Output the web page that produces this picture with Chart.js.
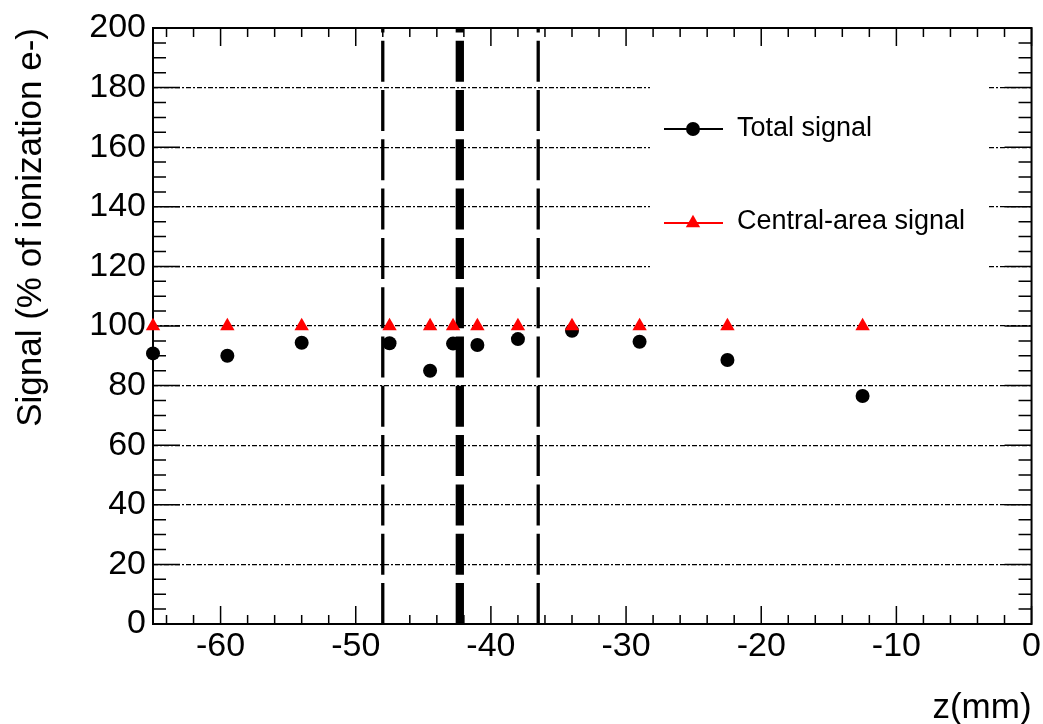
<!DOCTYPE html>
<html>
<head>
<meta charset="utf-8">
<title>Signal vs z</title>
<script src="https://cdn.jsdelivr.net/npm/chart.js@4.4.1/dist/chart.umd.min.js"></script>
<style>
  html, body { margin: 0; padding: 0; background: #fff; }
  #wrap { width: 1043px; height: 724px; }
</style>
</head>
<body>
<div id="wrap"><canvas id="signalChart" width="1043" height="724"></canvas></div>
<script>
// values
const zPositions    = [-65, -59.5, -54, -47.5, -44.5, -42.8, -41, -38, -34, -29, -22.5, -12.5];
const totalSignal   = [90.8, 90.0, 94.4, 94.2, 85.0, 94.1, 93.6, 95.6, 98.4, 94.7, 88.6, 76.5];
const centralSignal = [100, 100, 100, 100, 100, 100, 100, 100, 100, 100, 100, 100];
const boundaryZ     = [-48, -36.5];
const centreZ       = [-42.3];
const xTicks        = [-60, -50, -40, -30, -20, -10, 0];
const yTicks        = [0, 20, 40, 60, 80, 100, 120, 140, 160, 180, 200];
const seriesLabels  = ['Total signal', 'Central-area signal'];

const FONT = "'Liberation Sans', Arial, Helvetica, sans-serif";

function toPoints(xs, ys) {
  return xs.map((x, i) => ({ x, y: ys[i] }));
}

function verticalLine(z, width) {
  return {
    type: 'line',
    label: 'z=' + z,
    data: [{ x: z, y: yTicks[0] }, { x: z, y: yTicks[yTicks.length - 1] }],
    borderColor: '#000',
    borderWidth: width,
    borderDash: [41, 8.3],
    borderCapStyle: 'butt',
    pointRadius: 0,
    fill: false,
    order: 2,
  };
}

// ROOT-like frame: box + inward ticks on all four sides
const frameTicks = {
  id: 'frameTicks',
  beforeDatasetsDraw(chart) {
    const { ctx, chartArea: a, scales: { x, y } } = chart;
    ctx.save();
    ctx.strokeStyle = '#000';
    ctx.lineWidth = 1.5;
    ctx.beginPath();
    for (let v = Math.ceil(x.min / 2) * 2; v <= x.max; v += 2) {
      const px = x.getPixelForValue(v);
      const len = v % 10 === 0 ? 18 : 9;
      ctx.moveTo(px, a.bottom); ctx.lineTo(px, a.bottom - len);
      ctx.moveTo(px, a.top);    ctx.lineTo(px, a.top + len);
    }
    for (let v = y.min; v <= y.max; v += 5) {
      const py = y.getPixelForValue(v);
      const len = v % 20 === 0 ? 27 : 13;
      ctx.moveTo(a.left, py);  ctx.lineTo(a.left + len, py);
      ctx.moveTo(a.right, py); ctx.lineTo(a.right - len, py);
    }
    ctx.stroke();
    ctx.lineWidth = 2;
    ctx.strokeRect(a.left, a.top, a.right - a.left, a.bottom - a.top);
    ctx.restore();
  }
};

// legend box inside the frame, line + marker + text like the original
const boxLegend = {
  id: 'boxLegend',
  beforeDatasetsDraw(chart) {
    const { ctx, chartArea: a } = chart;
    const left = a.left + 497;
    ctx.save();
    ctx.fillStyle = '#fff';
    ctx.fillRect(left, a.top + 50, 338, 200);

    const rows = [
      { ds: chart.data.datasets[1], y: a.top + 101, base: a.top + 108 },
      { ds: chart.data.datasets[0], y: a.top + 195, base: a.top + 201 },
    ];
    rows.forEach(r => {
      ctx.strokeStyle = r.ds.borderColor;
      ctx.lineWidth = 2;
      ctx.beginPath();
      ctx.moveTo(left + 14, r.y);
      ctx.lineTo(left + 73, r.y);
      ctx.stroke();
      ctx.fillStyle = r.ds.backgroundColor;
      ctx.strokeStyle = r.ds.borderColor;
      Chart.helpers.drawPoint(ctx, {
        pointStyle: r.ds.pointStyle,
        radius: r.ds.pointRadius,
        rotation: 0,
        borderWidth: 0,
      }, left + 43, r.y);
      ctx.fillStyle = '#000';
      ctx.font = '27px ' + FONT;
      ctx.textBaseline = 'alphabetic';
      ctx.textAlign = 'left';
      ctx.fillText(r.ds.label, left + 87, r.base);
    });
    ctx.restore();
  }
};

const centreLine = verticalLine(centreZ[0], 8.3);
const datasets = [
  {
    type: 'scatter',
    label: seriesLabels[1],
    data: toPoints(zPositions, centralSignal),
    pointStyle: 'triangle',
    pointRadius: 8.3,
    backgroundColor: '#ff0000',
    borderColor: '#ff0000',
    borderWidth: 0,
    order: 0,
    clip: false,
  },
  {
    type: 'scatter',
    label: seriesLabels[0],
    data: toPoints(zPositions, totalSignal),
    pointStyle: 'circle',
    pointRadius: 7,
    backgroundColor: '#000',
    borderColor: '#000',
    borderWidth: 0,
    order: 1,
    clip: false,
  },
  ...boundaryZ.map(z => verticalLine(z, 3.3)),
  centreLine,
];

new Chart(document.getElementById('signalChart'), {
  data: { datasets },
  plugins: [frameTicks, boxLegend],
  options: {
    responsive: false,
    animation: false,
    events: [],
    layout: { padding: { left: 0, right: 10, top: 28, bottom: 0 } },
    plugins: {
      legend: { display: false },
      tooltip: { enabled: false },
    },
    scales: {
      x: {
        type: 'linear',
        min: -65,
        max: 0,
        afterBuildTicks: s => { s.ticks = xTicks.map(v => ({ value: v })); },
        afterFit: s => { s.height = 100; },
        grid: { display: false, drawTicks: false },
        border: { display: false },
        ticks: {
          color: '#000',
          padding: 2,
          maxRotation: 0,
          font: { family: FONT, size: 34 },
        },
        title: {
          display: true,
          text: 'z(mm)',
          align: 'end',
          color: '#000',
          font: { family: FONT, size: 35, lineHeight: 1 },
          padding: { top: 0, bottom: -2 },
        },
      },
      y: {
        type: 'linear',
        min: 0,
        max: 200,
        afterBuildTicks: s => { s.ticks = yTicks.map(v => ({ value: v })); },
        afterFit: s => { s.width = 153; },
        grid: {
          drawTicks: false,
          lineWidth: 1.2,
          color: c => (c.tick && (c.tick.value === 0 || c.tick.value === 200)) ? 'rgba(0,0,0,0)' : '#000',
        },
        border: { display: false, dash: [5, 2, 2, 2] },
        ticks: {
          color: '#000',
          padding: 7,
          font: { family: FONT, size: 34 },
        },
        title: {
          display: true,
          text: 'Signal (% of ionization e-)',
          align: 'end',
          color: '#000',
          font: { family: FONT, size: 35 },
          padding: { top: 10, bottom: 0 },
        },
      },
    },
  },
});
</script>
</body>
</html>
